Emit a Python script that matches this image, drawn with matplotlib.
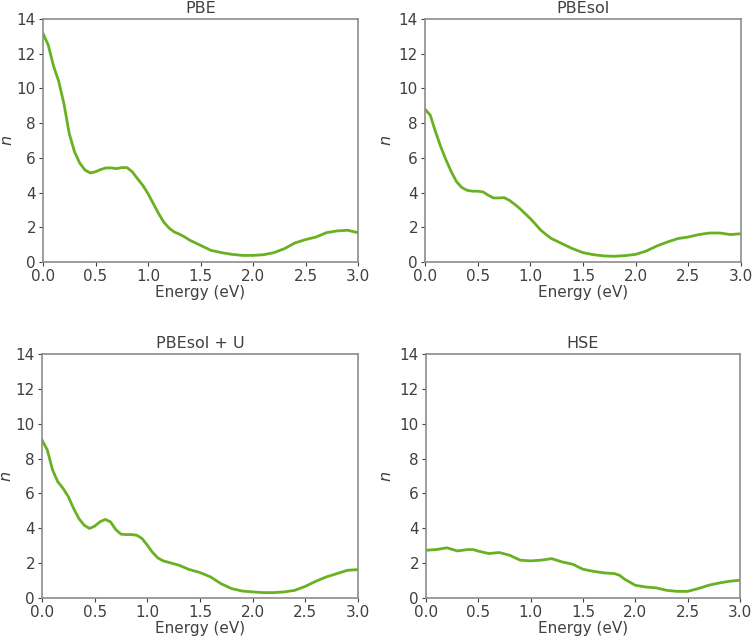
import matplotlib
matplotlib.use("Agg")
import matplotlib.pyplot as plt
import numpy as np

# energy grids (eV) and refractive index n for each functional
pbe_e = [0.0, 0.05, 0.1, 0.15, 0.2, 0.25, 0.3, 0.35, 0.4, 0.45, 0.5, 0.55, 0.6, 0.65,
         0.7, 0.75, 0.8, 0.85, 0.9, 0.95, 1.0, 1.05, 1.1, 1.15, 1.2, 1.25, 1.3, 1.35,
         1.4, 1.5, 1.6, 1.7, 1.8, 1.9, 2.0, 2.1, 2.2, 2.3, 2.4, 2.5, 2.6, 2.7, 2.8, 2.9, 3.0]
pbe_n = [13.17, 12.5, 11.3, 10.4, 9.1, 7.4, 6.35, 5.7, 5.3, 5.13, 5.2, 5.33, 5.42, 5.42,
         5.38, 5.44, 5.44, 5.2, 4.8, 4.42, 3.94, 3.37, 2.8, 2.3, 1.96, 1.73, 1.6, 1.44,
         1.25, 0.96, 0.67, 0.54, 0.44, 0.38, 0.38, 0.42, 0.54, 0.77, 1.1, 1.29, 1.44, 1.69,
         1.79, 1.83, 1.69]

pbesol_e = [0.0, 0.05, 0.1, 0.15, 0.2, 0.25, 0.3, 0.35, 0.4, 0.45, 0.5, 0.55, 0.6, 0.65,
            0.7, 0.75, 0.8, 0.85, 0.9, 0.95, 1.0, 1.05, 1.1, 1.15, 1.2, 1.3, 1.4, 1.5,
            1.6, 1.7, 1.8, 1.9, 2.0, 2.1, 2.2, 2.3, 2.4, 2.5, 2.6, 2.7, 2.8, 2.9, 3.0]
pbesol_n = [8.8, 8.46, 7.5, 6.63, 5.87, 5.19, 4.62, 4.29, 4.13, 4.08, 4.08, 4.04, 3.85, 3.69,
            3.69, 3.71, 3.56, 3.33, 3.08, 2.79, 2.5, 2.17, 1.83, 1.58, 1.35, 1.06, 0.77, 0.54,
            0.42, 0.35, 0.33, 0.37, 0.44, 0.63, 0.92, 1.15, 1.35, 1.44, 1.58, 1.67, 1.67, 1.58,
            1.63]

pbesolu_e = [0.0, 0.05, 0.1, 0.15, 0.2, 0.25, 0.3, 0.35, 0.4, 0.45, 0.5, 0.55, 0.6, 0.65,
             0.7, 0.75, 0.8, 0.85, 0.9, 0.95, 1.0, 1.05, 1.1, 1.15, 1.2, 1.3, 1.4, 1.5,
             1.6, 1.7, 1.8, 1.9, 2.0, 2.1, 2.2, 2.3, 2.4, 2.5, 2.6, 2.7, 2.8, 2.9, 3.0]
pbesolu_n = [9.07, 8.5, 7.35, 6.67, 6.29, 5.81, 5.14, 4.56, 4.18, 3.99, 4.12, 4.37, 4.51, 4.37,
             3.93, 3.66, 3.64, 3.64, 3.6, 3.41, 3.03, 2.61, 2.3, 2.13, 2.05, 1.88, 1.63, 1.46,
             1.21, 0.82, 0.54, 0.4, 0.35, 0.31, 0.31, 0.35, 0.44, 0.67, 0.96, 1.21, 1.4, 1.59,
             1.63]

hse_e = [0.0, 0.1, 0.2, 0.3, 0.4, 0.45, 0.5, 0.6, 0.7, 0.8, 0.9, 1.0, 1.1, 1.2, 1.3, 1.4,
         1.5, 1.6, 1.7, 1.8, 1.85, 1.9, 2.0, 2.1, 2.2, 2.3, 2.4, 2.5, 2.6, 2.7, 2.8, 2.9, 3.0]
hse_n = [2.74, 2.78, 2.88, 2.7, 2.78, 2.78, 2.69, 2.55, 2.61, 2.45, 2.17, 2.13, 2.17, 2.26,
         2.07, 1.94, 1.65, 1.53, 1.44, 1.4, 1.3, 1.07, 0.73, 0.63, 0.58, 0.44, 0.38, 0.38,
         0.54, 0.73, 0.86, 0.96, 1.02]

titles = ["PBE", "PBEsol", "PBEsol + U", "HSE"]
energies = [pbe_e, pbesol_e, pbesolu_e, hse_e]
indices = [pbe_n, pbesol_n, pbesolu_n, hse_n]

text_color = "#404040"
line_color = "#6ab023"

fig = plt.figure(figsize=(7.54, 6.4), dpi=100)
# axes positions in figure fractions (left, bottom, width, height)
boxes = [
    (43 / 754, 1 - 262 / 640, 315 / 754, 243 / 640),
    (425 / 754, 1 - 262 / 640, 316 / 754, 243 / 640),
    (42 / 754, 1 - 598 / 640, 316 / 754, 244 / 640),
    (426 / 754, 1 - 598 / 640, 314 / 754, 244 / 640),
]
# x pixel of the right side of the "n" label
ylabel_x = [15, 394, 14, 394]

for i in range(4):
    ax = fig.add_axes(boxes[i])
    ax.plot(energies[i], indices[i], color=line_color, linewidth=2)
    ax.set_xlim(0, 3.0)
    ax.set_ylim(0, 14)
    ax.set_xticks(np.arange(0, 3.01, 0.5))
    ax.set_yticks(np.arange(0, 15, 2))
    ax.set_title(titles[i], fontsize=11.5, color=text_color, pad=4)
    ax.set_xlabel("Energy (eV)", fontsize=11, color=text_color, labelpad=1)
    ax.set_ylabel("$n$", fontsize=11.5, color=text_color)
    left = boxes[i][0] * 754
    width = boxes[i][2] * 754
    ax.yaxis.set_label_coords((ylabel_x[i] - left) / width, 0.5)
    ax.tick_params(labelsize=11, colors=text_color, length=3, pad=2)
    for s in ax.spines.values():
        s.set_color("#8c8c8c")
        s.set_linewidth(1.2)

fig.savefig("out.png", dpi=100)
